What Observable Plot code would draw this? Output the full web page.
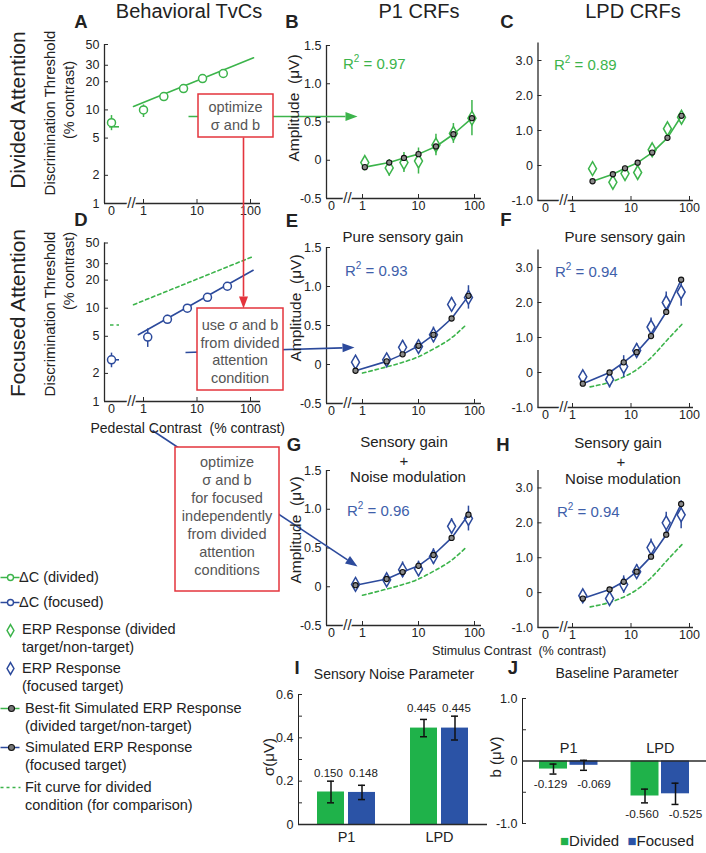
<!DOCTYPE html>
<html><head><meta charset="utf-8">
<script src="https://cdn.jsdelivr.net/npm/d3@7"></script>
<script src="https://cdn.jsdelivr.net/npm/@observablehq/plot@0.6"></script>
<style>
body{margin:0;background:#fff;}
#fig{position:relative;width:706px;height:853px;overflow:hidden;font-family:"Liberation Sans",Arial,Helvetica,sans-serif;color:#222;background:#fff;}
#fig svg{position:absolute;left:0;top:0;}
.t{position:absolute;white-space:nowrap;line-height:1;}
</style></head><body><div id="fig"></div>
<script>
// ---------------- DATA ----------------
const xTickLabels = ["0", "1", "10", "100"];
// Panel A: behavioural TvC, divided attention
const pedA = [0, 1.0, 2.4, 5.6, 12.7, 31];
const thrA = [7.3, 10.0, 13.9, 16.9, 21.6, 24.5];
const thrA_lo = [6.0, 8.3, 12.9, 15.9, 20.4, 23.2];
const thrA_hi = [8.7, 11.3, 15.0, 18.0, 22.9, 25.9];
const fitDivPed = [0.65, 114];
const fitDivThr = [10.9, 36];
const fitDivZero = 6.6;
// Panel D: behavioural TvC, focused attention
const pedD = [0, 1.2, 2.8, 6.6, 15.7, 37];
const thrD = [2.8, 4.9, 7.6, 10.0, 13.1, 17.2];
const thrD_lo = [2.3, 3.8, 6.9, 9.2, 12.2, 16.2];
const thrD_hi = [3.3, 6.0, 8.4, 10.9, 14.1, 18.3];
const fitFocPed = [0.8, 112];
const fitFocThr = [5.2, 25.5];
const fitFocZero = 2.8;
const tvcTicks = [1, 2, 5, 10, 20, 30, 50];

// P1 CRFs
const cP1div = [1.1, 3.0, 5.5, 10, 20.5, 42, 90];
const erpB = [-0.03, -0.10, -0.03, -0.01, 0.20, 0.35, 0.55];
const errB = [0.05, 0.11, 0.13, 0.17, 0.14, 0.13, 0.23];
const simB = [-0.09, -0.03, 0.03, 0.08, 0.18, 0.34, 0.55];
const cP1foc = [0.75, 2.7, 5.2, 10, 18.5, 39, 78];
const erpE = [0.03, 0.06, 0.22, 0.23, 0.38, 0.77, 0.86];
const errE = [0.04, 0.07, 0.09, 0.08, 0.10, 0.09, 0.15];
const simE = [-0.08, 0.04, 0.13, 0.24, 0.38, 0.59, 0.88];
const erpG = [0.03, 0.09, 0.22, 0.23, 0.39, 0.78, 0.88];
const errG = [0.04, 0.08, 0.10, 0.10, 0.10, 0.10, 0.16];
const simG = [0.02, 0.10, 0.19, 0.27, 0.41, 0.63, 0.93];
const dashP1c = [1, 2.4, 4.8, 9.3, 18.6, 37, 69];
const dashP1v = [-0.11, -0.04, 0.02, 0.09, 0.20, 0.33, 0.50];
const p1Ticks = [-0.5, 0, 0.5, 1.0, 1.5];

// LPD CRFs
const cLPDdiv = [2.2, 4.9, 7.9, 13, 23, 42, 73];
const erpC = [-0.09, -0.48, -0.23, -0.20, 0.45, 1.05, 1.38];
const errC = [0.08, 0.10, 0.10, 0.10, 0.12, 0.12, 0.15];
const simC = [-0.45, -0.25, -0.08, 0.08, 0.37, 0.79, 1.42];
const cLPDfoc = [1.5, 4.3, 7.5, 12.5, 22, 40, 72];
const erpF = [-0.12, -0.20, 0.17, 0.63, 1.30, 2.00, 2.30];
const errF = [0.15, 0.24, 0.31, 0.20, 0.26, 0.30, 0.41];
const simF = [-0.32, 0.00, 0.29, 0.58, 1.04, 1.73, 2.65];
const erpH = [-0.09, -0.17, 0.23, 0.60, 1.29, 2.00, 2.23];
const errH = [0.12, 0.20, 0.25, 0.20, 0.25, 0.30, 0.40];
const simH = [-0.17, 0.09, 0.31, 0.60, 1.03, 1.66, 2.54];
const dashLPDc = [2.0, 5.9, 11.5, 21.9, 42.7, 77.6];
const dashLPDv = [-0.41, -0.20, 0.04, 0.42, 0.95, 1.41];
const lpdTicks = [-1, 0, 1, 2, 3];

// Parameters (bar charts)
const params = ["P1", "LPD"];
const sigmaDiv = [0.150, 0.445];
const sigmaFoc = [0.148, 0.445];
const sigmaErrDiv = [0.05, 0.04];
const sigmaErrFoc = [0.033, 0.055];
const baseDiv = [-0.129, -0.560];
const baseFoc = [-0.069, -0.525];
const baseErrDiv = [0.08, 0.11];
const baseErrFoc = [0.08, 0.17];

// ---------------- STYLE / LAYOUT ----------------
const FONT = '"Liberation Sans", Arial, Helvetica, sans-serif';
const GREEN = "#3cb44b", BLUE = "#2c4a9c", GREEN_BAR = "#1fb24a", BLUE_BAR = "#2b53a6";
const RED = "#e4343d", AX = "#2a2a2a", TXT = "#222", GREEN_TXT = "#3cb44b", BLUE_TXT = "#3e60aa";
const fig = document.getElementById("fig");

function frame(L, R, T, B) {
  return {width: 706, height: 853, marginLeft: L, marginRight: 706 - R, marginTop: T, marginBottom: 853 - B,
    style: {position: "absolute", left: "0px", top: "0px", background: "transparent", fontFamily: FONT,
      fontSize: "12.5px", color: TXT, overflow: "visible"}};
}
const add = p => fig.appendChild(p);

const uZero = g => (g.x0 - g.x1) / g.dec;
const xU = g => c => c === 0 ? uZero(g) : Math.log10(c);
const xDomain = g => [(g.axis - g.x1) / g.dec, (g.right - g.x1) / g.dec];
const uBrk = g => (g.brk - g.x1) / g.dec;
const xScale = g => ({domain: xDomain(g), ticks: [uZero(g), 0, 1, 2],
  tickFormat: (u) => u < -0.15 ? xTickLabels[0] : xTickLabels[Math.round(u) + 1],
  tickSize: 0, tickPadding: 3, label: null});
const fmt1 = d => d === 0 ? "0" : d.toFixed(1);
const breakMark = (g, y0) => Plot.text([uBrk(g)], {x: d => d, y: () => y0, text: () => "//", fontSize: 15,
  fill: AX, stroke: "white", strokeWidth: 3, paintOrder: "stroke"});

// ---------------- TvC panels ----------------
const geoA = {axis: 104, x0: 111, x1: 143, dec: 53.5, right: 260, brk: 131, top: 44, bottom: 203};
const geoD = {...geoA, top: 242.5, bottom: 401};

function tvcPanel(g, ped, thr, lo, hi, color, fitPed, fitThr, zeroVal, extra) {
  const idx = d3.range(ped.length);
  const fx = xU(g), xd = xDomain(g);
  const decY = (g.bottom - g.top) / Math.log10(50);
  const fi = d3.range(fitPed.length);
  return Plot.plot({
    ...frame(g.axis, g.right, g.top, g.bottom),
    x: xScale(g),
    y: {type: "log", domain: [1, 50], ticks: tvcTicks, tickFormat: d => String(d), tickSize: 0, tickPadding: 5, label: null},
    marks: [
      Plot.ruleX([xd[0]], {x: d => d, stroke: AX, strokeWidth: 1.3}),
      Plot.ruleY([1], {y: d => d, stroke: AX, strokeWidth: 1.3}),
      Plot.ruleY(tvcTicks, {y: d => d, x1: () => xd[0], x2: () => xd[0] + 4 / g.dec, stroke: AX}),
      Plot.ruleX([0, 1, 2], {x: d => d, y1: () => 1, y2: () => 10 ** (4 / decY), stroke: AX}),
      breakMark(g, 1),
      ...extra,
      Plot.line(fi, {x: i => fx(fitPed[i]), y: i => fitThr[i], stroke: color, strokeWidth: 1.6}),
      Plot.ruleY([zeroVal], {y: d => d, x1: () => uZero(g) - 2 / g.dec, x2: () => uZero(g) + 8 / g.dec, stroke: color, strokeWidth: 1.6}),
      Plot.ruleX(idx, {x: i => fx(ped[i]), y1: i => lo[i], y2: i => hi[i], stroke: color, strokeWidth: 1.5}),
      Plot.dot(idx, {x: i => fx(ped[i]), y: i => thr[i], r: 4, stroke: color, fill: "white", strokeWidth: 1.5})
    ]
  });
}
add(tvcPanel(geoA, pedA, thrA, thrA_lo, thrA_hi, GREEN, fitDivPed, fitDivThr, fitDivZero, []));
add(tvcPanel(geoD, pedD, thrD, thrD_lo, thrD_hi, BLUE, fitFocPed, fitFocThr, fitFocZero, [
  Plot.line(d3.range(fitDivPed.length), {x: i => xU(geoD)(fitDivPed[i]), y: i => fitDivThr[i], stroke: GREEN, strokeWidth: 1.6, strokeDasharray: "3.5,3"}),
  Plot.ruleY([fitDivZero], {y: d => d, x1: () => uZero(geoD) - 1 / geoD.dec, x2: () => uZero(geoD) + 8 / geoD.dec, stroke: GREEN, strokeWidth: 1.6, strokeDasharray: "3.5,3"})
]));

// ---------------- CRF panels ----------------
const geoP1 = {axis: 326, x0: 331, x1: 362, dec: 56, right: 481, brk: 347};
const geoLPD = {axis: 537.5, x0: 545, x1: 572, dec: 58.5, right: 693, brk: 563};

function crfPanel(g, yd, yTicks, S) {
  const idx = d3.range(S.c.length);
  const fx = xU(g);
  const x = i => fx(S.c[i]);
  const pxPerY = (g.bottom - g.top) / (yd[1] - yd[0]);
  const xd = xDomain(g);
  const marks = [
    Plot.ruleY([yd[0]], {y: d => d, stroke: AX, strokeWidth: 1.3}),
    Plot.ruleX([xd[0]], {x: d => d, stroke: AX, strokeWidth: 1.3}),
    Plot.ruleX([0, 1, 2], {x: d => d, y1: () => yd[0], y2: () => yd[0] + 4 / pxPerY, stroke: AX}),
    Plot.ruleY(yTicks, {y: d => d, x1: () => xd[0], x2: () => xd[0] + 4 / g.dec, stroke: AX}),
    breakMark(g, yd[0])
  ];
  if (S.dc2) {
    const di = d3.range(S.dc2.length);
    marks.push(Plot.line(di, {x: i => Math.log10(S.dc2[i]), y: i => S.dv2[i], stroke: GREEN, strokeWidth: 1.6,
      strokeDasharray: "3.5,3", curve: "monotone-x"}));
  }
  marks.push(
    Plot.ruleX(idx, {x, y1: i => S.erp[i] - S.err[i], y2: i => S.erp[i] + S.err[i], stroke: S.col, strokeWidth: 1.5}),
    Plot.dot(idx, {x, y: i => S.erp[i], symbol: "diamond", r: 4.2, stroke: S.col, fill: "white", strokeWidth: 1.5}),
    Plot.line(idx, {x, y: i => S.sim[i], stroke: S.col, strokeWidth: 1.6}),
    Plot.dot(idx, {x, y: i => S.sim[i], r: 2.6, stroke: "#111", fill: "#8a8a8a", strokeWidth: 1.1})
  );
  return Plot.plot({
    ...frame(g.axis, g.right, g.top, g.bottom),
    x: xScale(g),
    y: {domain: yd, ticks: yTicks, tickFormat: fmt1, tickSize: 0, tickPadding: 5, label: null},
    marks
  });
}
add(crfPanel({...geoP1, top: 45, bottom: 198}, [-0.5, 1.5], p1Ticks, {c: cP1div, erp: erpB, err: errB, sim: simB, col: GREEN}));
add(crfPanel({...geoLPD, top: 42.5, bottom: 200}, [-1, 3.5], lpdTicks, {c: cLPDdiv, erp: erpC, err: errC, sim: simC, col: GREEN}));
add(crfPanel({...geoP1, top: 247, bottom: 403}, [-0.5, 1.5], p1Ticks, {c: cP1foc, erp: erpE, err: errE, sim: simE, col: BLUE, dc2: dashP1c, dv2: dashP1v}));
add(crfPanel({...geoLPD, top: 249.5, bottom: 407}, [-1, 3.5], lpdTicks, {c: cLPDfoc, erp: erpF, err: errF, sim: simF, col: BLUE, dc2: dashLPDc, dv2: dashLPDv}));
add(crfPanel({...geoP1, top: 470, bottom: 625}, [-0.5, 1.5], p1Ticks, {c: cP1foc, erp: erpG, err: errG, sim: simG, col: BLUE, dc2: dashP1c, dv2: dashP1v}));
add(crfPanel({...geoLPD, top: 470, bottom: 627}, [-1, 3.5], lpdTicks, {c: cLPDfoc, erp: erpH, err: errH, sim: simH, col: BLUE, dc2: dashLPDc, dv2: dashLPDv}));

// ---------------- Bar panels ----------------
function barRows(div, foc, divE, focE) {
  return params.flatMap((p, i) => [
    {p, cond: "Divided", key: p + " Divided", v: div[i], e: divE[i]},
    {p, cond: "Focused", key: p + " Focused", v: foc[i], e: focE[i]}
  ]);
}
function barPanel(L, R, T, B, rows, yd, yTicks, minor, pin, pout, above, spread, labelSize) {
  const keys = [rows[0].key, rows[1].key, " ", rows[2].key, rows[3].key];
  const step = (R - L) / (keys.length - pin + 2 * pout);
  const bw = step * (1 - pin);
  const inset = (bw - 7) / 2;
  const groupY = p => {
    const r = rows.filter(d => d.p === p);
    return above ? d3.max(r, d => d.v + d.e) : d3.min(r, d => d.v - d.e);
  };
  const lab = cond => Plot.text(rows.filter(d => d.cond === cond), {x: "key", y: d => groupY(d.p), text: d => d.v.toFixed(3),
    dy: above ? -8 : 10, dx: spread[cond], fontSize: labelSize, fill: TXT});
  return Plot.plot({
    ...frame(L, R, T, B),
    x: {type: "band", domain: keys, paddingInner: pin, paddingOuter: pout, round: false, axis: null},
    y: {domain: yd, ticks: yTicks, tickFormat: fmt1, tickSize: 0, tickPadding: 5, line: true, label: null},
    marks: [
      Plot.barY(rows.filter(d => d.cond === "Divided"), {x: "key", y: "v", fill: GREEN_BAR}),
      Plot.barY(rows.filter(d => d.cond === "Focused"), {x: "key", y: "v", fill: BLUE_BAR}),
      Plot.ruleY([0], {y: d => d, stroke: AX, strokeWidth: 1.3}),
      Plot.ruleY(minor, {y: d => d, insetRight: (R - L) - 4, stroke: AX}),
      Plot.ruleX(rows, {x: "key", y1: d => d.v - d.e, y2: d => d.v + d.e, stroke: "#111", strokeWidth: 1.5}),
      Plot.tickY(rows, {x: "key", y: d => d.v + d.e, insetLeft: inset, insetRight: inset, stroke: "#111", strokeWidth: 1.5}),
      Plot.tickY(rows, {x: "key", y: d => d.v - d.e, insetLeft: inset, insetRight: inset, stroke: "#111", strokeWidth: 1.5}),
      lab("Divided"), lab("Focused"),
      Plot.text(params, {x: p => p + " Divided", y: () => 0, dx: step / 2, dy: above ? 13 : -13, text: p => p, fontSize: 14.5, fill: TXT})
    ]
  });
}
add(barPanel(298, 487, 694, 824, barRows(sigmaDiv, sigmaFoc, sigmaErrDiv, sigmaErrFoc), [0, 0.6], [0, 0.2, 0.4, 0.6],
  [0.1, 0.2, 0.3, 0.4, 0.5, 0.6], 0.129, 0.613, true, {Divided: -2.5, Focused: 1.5}, 11.5));
add(barPanel(522, 706, 698, 823, barRows(baseDiv, baseFoc, baseErrDiv, baseErrFoc), [-1, 1], [-1, 0, 1],
  [-1, -0.5, 0.5, 1], 0.082, 0.557, false, {Divided: -3, Focused: 10}, 11.8));

// ---------------- Annotation overlay (layout, pixel space) ----------------
const arrows = [
  {x1: 188, y1: 116, x2: 357, y2: 116, color: GREEN},
  {x1: 243, y1: 137, x2: 243, y2: 308, color: RED},
  {x1: 185, y1: 352, x2: 354, y2: 347, color: BLUE},
  {x1: 152, y1: 430, x2: 357, y2: 566, color: BLUE}
];
const boxes = [
  {x1: 198, y1: 94, x2: 273, y2: 137},
  {x1: 197, y1: 308, x2: 283, y2: 390},
  {x1: 175, y1: 447, x2: 279, y2: 591}
];
const legendLines = [
  {y: 577, color: GREEN, dash: null}, {y: 602, color: BLUE, dash: null},
  {y: 708, color: GREEN, dash: null}, {y: 747, color: BLUE, dash: null},
  {y: 787, color: GREEN, dash: "3,3"}
];
const legendCircles = [{x: 10, y: 577, color: GREEN}, {x: 10, y: 602, color: BLUE}];
const legendDiamonds = [{x: 10, y: 630, color: GREEN}, {x: 10, y: 668, color: BLUE}];
const legendSim = [{x: 11, y: 708}, {x: 11, y: 747}];

const HEAD = 12;
const headSymbol = {draw(ctx) { ctx.moveTo(0, -HEAD); ctx.lineTo(4.5, 0); ctx.lineTo(-4.5, 0); ctx.closePath(); }};
arrows.forEach(a => {
  const dx = a.x2 - a.x1, dy = a.y2 - a.y1, L = Math.hypot(dx, dy);
  a.bx = a.x2 - HEAD * dx / L; a.by = a.y2 - HEAD * dy / L;
  a.ang = Math.atan2(dy, dx) * 180 / Math.PI + 90;
});
add(Plot.plot({
  width: 706, height: 853, margin: 0,
  style: {position: "absolute", left: "0px", top: "0px", background: "transparent", fontFamily: FONT, overflow: "visible"},
  x: {domain: [0, 706], range: [0, 706], axis: null},
  y: {domain: [0, 853], range: [0, 853], axis: null},
  marks: [
    Plot.link(arrows, {x1: "x1", y1: "y1", x2: "bx", y2: "by", stroke: d => d.color, strokeWidth: 1.6}),
    Plot.dot(arrows, {x: "bx", y: "by", symbol: headSymbol, rotate: d => d.ang, fill: d => d.color, stroke: "none"}),
    Plot.rect(boxes, {x1: "x1", x2: "x2", y1: "y1", y2: "y2", fill: "white", stroke: RED, strokeWidth: 1.5}),
    Plot.link(legendLines.filter(d => !d.dash), {x1: () => 0, x2: () => 19, y1: "y", y2: "y", stroke: d => d.color, strokeWidth: 1.5}),
    Plot.link(legendLines.filter(d => d.dash), {x1: () => 0, x2: () => 20, y1: "y", y2: "y", stroke: d => d.color, strokeWidth: 1.5, strokeDasharray: "3,3"}),
    Plot.dot(legendCircles, {x: "x", y: "y", r: 3, stroke: d => d.color, fill: "white", strokeWidth: 1.4}),
    Plot.dot(legendDiamonds, {x: "x", y: "y", r: 3.6, symbol: "diamond", stroke: d => d.color, fill: "white", strokeWidth: 1.5}),
    Plot.dot(legendSim, {x: "x", y: "y", r: 3, stroke: "#111", fill: "#777", strokeWidth: 1.1})
  ]
}));

// ---------------- Text ----------------
function T(html, x, y, o = {}) {
  const d = document.createElement("div");
  d.className = "t";
  d.innerHTML = html;
  d.style.left = x + "px"; d.style.top = y + "px";
  d.style.fontSize = (o.size || 14.5) + "px";
  d.style.color = o.color || TXT;
  if (o.bold) d.style.fontWeight = "bold";
  const a = o.anchor || "middle";
  const tx = a === "start" ? "0" : a === "end" ? "-100%" : "-50%";
  d.style.transform = `translate(${tx},-50%)` + (o.rot ? " rotate(-90deg)" : "");
  fig.appendChild(d);
}
const R2 = v => `R<span style="font-size:10px;position:relative;top:-7px">2</span> = ${v}`;

T("Behavioral TvCs", 189, 11, {size: 20});
T("P1 CRFs", 419, 11, {size: 20});
T("LPD CRFs", 633, 11, {size: 20});
[["A", 81, 22], ["B", 292, 22], ["C", 507, 22], ["D", 81, 220], ["E", 292, 221], ["F", 506, 220],
 ["G", 294, 445], ["H", 503, 445], ["I", 297, 668], ["J", 513, 668]].forEach(([s, x, y]) => T(s, x, y, {size: 18.5, bold: true}));
T("Divided Attention", 17, 110, {size: 21, rot: true});
T("Focused Attention", 17, 313, {size: 21, rot: true});
T("Discrimination Threshold", 49, 113, {size: 15, rot: true});
T("(% contrast)", 69, 100, {size: 14.5, rot: true});
T("Discrimination Threshold", 49, 314, {size: 15, rot: true});
T("(% contrast)", 69, 271, {size: 14.5, rot: true});
T("Amplitude&nbsp; (μV)", 294, 108, {size: 15.5, rot: true});
T("Amplitude&nbsp; (μV)", 296, 308, {size: 15.5, rot: true});
T("Amplitude&nbsp; (μV)", 296, 530, {size: 15.5, rot: true});
T("σ(μV)", 268, 757, {size: 15, rot: true});
T("b (μV)", 495, 757, {size: 15, rot: true});

T("Pure sensory gain", 403, 236, {size: 15});
T("Pure sensory gain", 625, 236, {size: 15});
T("Sensory gain", 404, 441, {size: 15});
T("+", 404, 460, {size: 15});
T("Noise modulation", 408, 476, {size: 15});
T("Sensory gain", 618, 442, {size: 15});
T("+", 621, 461, {size: 15});
T("Noise modulation", 623, 478, {size: 15});

T(R2("0.97"), 343, 63, {size: 15, color: GREEN_TXT, anchor: "start"});
T(R2("0.89"), 554, 64, {size: 15, color: GREEN_TXT, anchor: "start"});
T(R2("0.93"), 345, 270, {size: 15, color: BLUE_TXT, anchor: "start"});
T(R2("0.94"), 555, 271, {size: 15, color: BLUE_TXT, anchor: "start"});
T(R2("0.96"), 347, 510, {size: 15, color: BLUE_TXT, anchor: "start"});
T(R2("0.94"), 557, 511, {size: 15, color: BLUE_TXT, anchor: "start"});

T("Pedestal Contrast&nbsp; (% contrast)", 285, 428, {size: 14, anchor: "end"});
T("Stimulus Contrast&nbsp; (% contrast)", 432, 651, {size: 12.6, anchor: "start"});
T("Sensory Noise Parameter", 394, 674, {size: 14});
T("Baseline Parameter", 617, 673, {size: 14});

const GRAY = "#555";
T("optimize", 235.5, 107, {size: 14.5, color: GRAY});
T("σ and b", 235.5, 125, {size: 14.5, color: GRAY});
["use σ and b", "from divided", "attention", "condition"].forEach((s, i) => T(s, 240, 325 + 17.5 * i, {size: 14.5, color: GRAY}));
["optimize", "σ and b", "for focused", "independently", "from divided", "attention", "conditions"].forEach((s, i) => T(s, 227, 462 + 18 * i, {size: 14.5, color: GRAY}));

T("ΔC (divided)", 19, 577, {anchor: "start"});
T("ΔC (focused)", 19, 602, {anchor: "start"});
T("ERP Response (divided", 22, 629, {anchor: "start"});
T("target/non-target)", 22, 647, {anchor: "start"});
T("ERP Response", 22, 668, {anchor: "start"});
T("(focused target)", 22, 686, {anchor: "start"});
T("Best-fit Simulated ERP Response", 25, 708, {anchor: "start"});
T("(divided target/non-target)", 25, 726, {anchor: "start"});
T("Simulated ERP Response", 25, 747, {anchor: "start"});
T("(focused target)", 25, 765, {anchor: "start"});
T("Fit curve for divided", 25, 787, {anchor: "start"});
T("condition (for comparison)", 25, 805, {anchor: "start"});

T(`<span style="color:${GREEN_BAR}">■</span>Divided&nbsp; <span style="color:${BLUE_BAR}">■</span>Focused`, 560, 840, {size: 15, anchor: "start"});
</script></body></html>
